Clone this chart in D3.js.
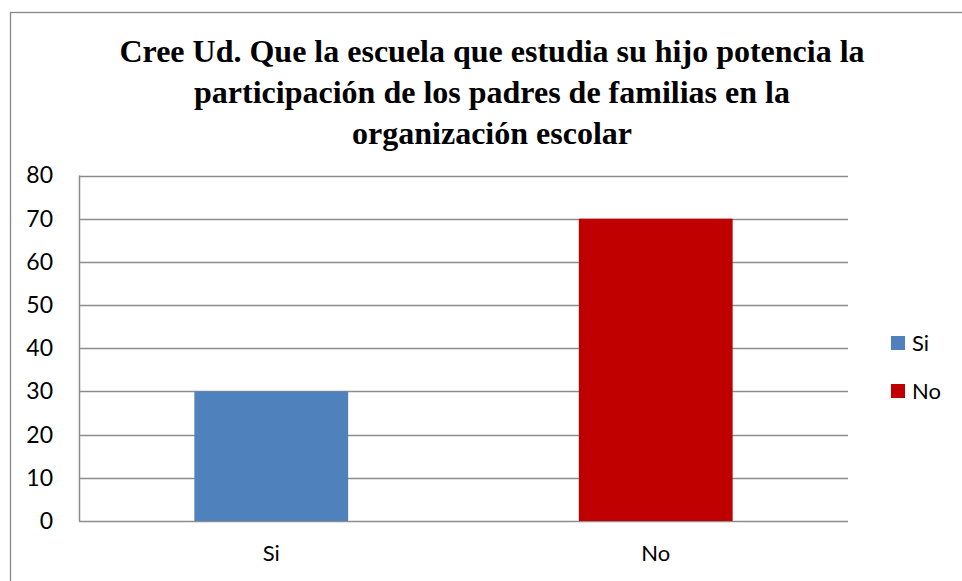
<!DOCTYPE html>
<html>
<head>
<meta charset="utf-8">
<script src="https://cdn.jsdelivr.net/npm/d3@7"></script>
<style>
  body { margin: 0; background: #fff; }
  svg { display: block; }
  .title { font-family: "Liberation Serif", "Times New Roman", serif; font-weight: bold; }
  .lbl { font-family: Lato, "Open Sans", sans-serif; }
</style>
</head>
<body>
<div id="chart"></div>
<script>
const categories = ["Si", "No"];
const values = [30, 70];
const colors = ["#4f81bd", "#c00000"];
const yTicks = [0, 10, 20, 30, 40, 50, 60, 70, 80];
const titleLines = [
  "Cree Ud. Que la escuela que estudia su hijo potencia la",
  "participación de los padres de familias en la",
  "organización escolar"
];

(() => {
  const width = 962;
  const height = 581;
  const plot = { left: 79, right: 848, top: 175.5, bottom: 521 };

  const svg = d3.select("#chart").append("svg")
    .attr("width", width)
    .attr("height", height);

  // outer chart frame
  svg.append("rect")
    .attr("x", 10.5).attr("y", 12.5)
    .attr("width", 960).attr("height", 580)
    .attr("fill", "#fff")
    .attr("stroke", "#868686")
    .attr("stroke-width", 1.3);

  svg.append("g").selectAll("text")
    .data(titleLines)
    .join("text")
    .attr("class", "title")
    .attr("x", 492)
    .attr("y", (d, i) => 62 + i * 41)
    .attr("text-anchor", "middle")
    .style("font-size", "32px")
    .attr("fill", "#000")
    .text(d => d);

  const x = d3.scaleBand().domain(categories).range([plot.left, plot.right]).paddingInner(0.6).paddingOuter(0.3);
  const y = d3.scaleLinear().domain([0, 80]).range([plot.bottom, plot.top]);

  // gridlines
  svg.append("g").selectAll("line")
    .data(yTicks)
    .join("line")
    .attr("x1", plot.left).attr("x2", plot.right)
    .attr("y1", d => Math.round(y(d)) + 0.5).attr("y2", d => Math.round(y(d)) + 0.5)
    .attr("stroke", "#8c8c8c")
    .attr("stroke-width", 1.5);

  svg.append("g").selectAll("rect")
    .data(values)
    .join("rect")
    .attr("x", (d, i) => x(categories[i]))
    .attr("y", d => y(d))
    .attr("width", x.bandwidth())
    .attr("height", d => y(0) - y(d))
    .attr("fill", (d, i) => colors[i]);

  // y axis line
  svg.append("line")
    .attr("x1", plot.left + 0.5).attr("x2", plot.left + 0.5)
    .attr("y1", plot.top).attr("y2", plot.bottom)
    .attr("stroke", "#8c8c8c").attr("stroke-width", 1.5);

  const yAxis = svg.append("g")
    .attr("transform", `translate(${plot.left},0)`)
    .call(d3.axisLeft(y).tickValues(yTicks).tickSize(0).tickPadding(26));
  yAxis.select(".domain").remove();
  yAxis.selectAll("text")
    .attr("class", "lbl")
    .style("font-size", "23px")
    .attr("fill", "#000");

  const xAxis = svg.append("g")
    .attr("transform", `translate(0,${plot.bottom})`)
    .call(d3.axisBottom(x).tickSize(0).tickPadding(24));
  xAxis.select(".domain").remove();
  xAxis.selectAll("text")
    .attr("class", "lbl")
    .style("font-size", "22px")
    .attr("fill", "#000");

  const legend = svg.append("g").selectAll("g")
    .data(categories)
    .join("g")
    .attr("transform", (d, i) => `translate(891,${336 + i * 48})`);
  legend.append("rect")
    .attr("width", 14).attr("height", 14)
    .attr("fill", (d, i) => colors[i]);
  legend.append("text")
    .attr("class", "lbl")
    .attr("x", 21).attr("y", 15)
    .style("font-size", "22px")
    .attr("fill", "#000")
    .text(d => d);
})();
</script>
</body>
</html>
